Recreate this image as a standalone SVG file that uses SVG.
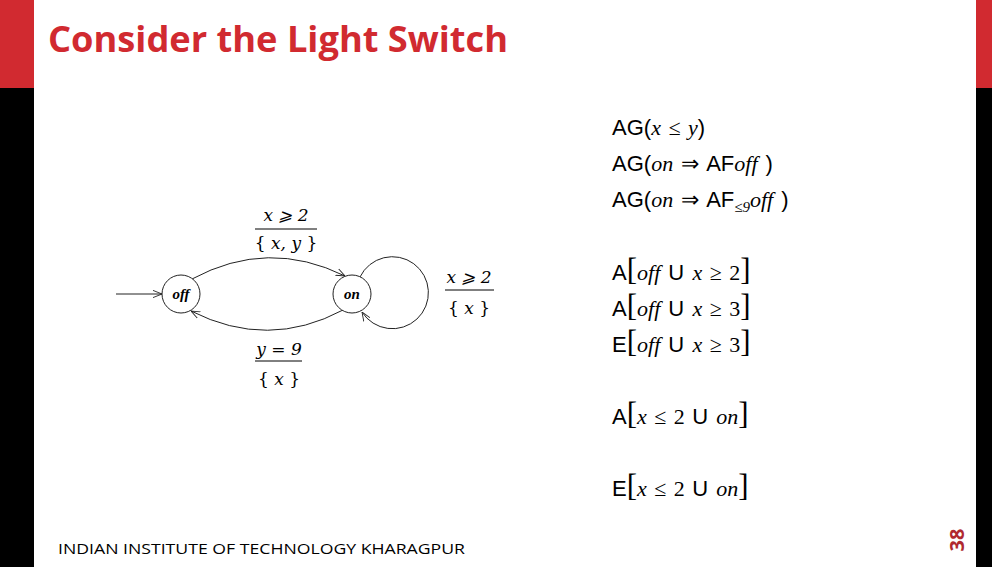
<svg xmlns="http://www.w3.org/2000/svg" width="992" height="567" viewBox="0 0 992 567">
<style>
.s{font-family:"Liberation Sans",Arial,sans-serif;font-size:22px;fill:#000;word-spacing:2px}
.m{font-family:"Liberation Serif","Times New Roman",serif;font-style:italic}
.r{font-family:"Liberation Serif","Times New Roman",serif;font-style:normal}
.b{font-family:"Liberation Serif",serif;font-size:31px;font-weight:normal}
.e{fill:none;stroke:#222;stroke-width:1}
.n{fill:#fff;stroke:#222;stroke-width:1}
.lab{font-family:"DejaVu Serif","Liberation Serif",serif;font-style:italic;font-size:17px;text-anchor:middle}
.nl{font-family:"Liberation Serif",serif;font-style:italic;font-weight:bold;font-size:15px;text-anchor:middle}
</style>
<defs>
<marker id="a" viewBox="0 0 10 10" refX="10" refY="5" markerWidth="9" markerHeight="9" orient="auto" markerUnits="userSpaceOnUse">
<path d="M0,1 L10,5 L0,9" fill="none" stroke="#222" stroke-width="1"/>
</marker>
</defs>
<rect width="992" height="567" fill="#fff"/>
<rect x="0" y="0" width="34" height="88" fill="#d12a30"/>
<rect x="0" y="88" width="34" height="479" fill="#000"/>
<rect x="976" y="0" width="16" height="88" fill="#d12a30"/>
<rect x="976" y="88" width="16" height="479" fill="#000"/>
<text x="48" y="52" font-family="'Open Sans',sans-serif" font-weight="bold" font-size="35" fill="#d12a30" textLength="460" lengthAdjust="spacingAndGlyphs">Consider the Light Switch</text>
<text x="58" y="554" font-family="'Open Sans',sans-serif" font-size="15" fill="#000" textLength="407" lengthAdjust="spacingAndGlyphs">INDIAN INSTITUTE OF TECHNOLOGY KHARAGPUR</text>
<text transform="translate(964,540) rotate(-90)" text-anchor="middle" font-family="'Open Sans',sans-serif" font-weight="bold" font-size="20" fill="#b02a30">38</text>
<g id="connectors">
<line class="e" x1="116" y1="294" x2="162" y2="294" marker-end="url(#a)"/>
<path class="e" d="M192,279 Q268,238 345,276" marker-end="url(#a)"/>
<path class="e" d="M343,310 Q268,350 191,311" marker-end="url(#a)"/>
<path class="e" d="M360,277 A36,36 0 1 1 362,312" marker-end="url(#a)"/>
</g>
<g id="off"><circle class="n" cx="181" cy="294" r="19"/><text class="nl" x="181" y="299">off</text></g>
<g id="on"><circle class="n" cx="352" cy="294" r="19"/><text class="nl" x="352" y="299">on</text></g>
<g id="labels">
<text class="lab" x="286" y="221">x ⩾ 2</text><line x1="255" y1="229" x2="317" y2="229" stroke="#000"/>
<text class="lab" x="286" y="249"><tspan font-style="normal">{</tspan> x, y <tspan font-style="normal">}</tspan></text>
<text class="lab" x="469" y="283">x ⩾ 2</text><line x1="445" y1="290" x2="494" y2="290" stroke="#000"/>
<text class="lab" x="469" y="314"><tspan font-style="normal">{</tspan> x <tspan font-style="normal">}</tspan></text>
<text class="lab" x="279" y="355">y = 9</text><line x1="255" y1="361" x2="302" y2="361" stroke="#000"/>
<text class="lab" x="279" y="385"><tspan font-style="normal">{</tspan> x <tspan font-style="normal">}</tspan></text>
</g>
<g id="formulas">
<text class="s" x="612" y="135">AG(<tspan class="m">x ≤ y</tspan>)</text>
<text class="s" x="612" y="171">AG(<tspan class="m">on</tspan> <tspan class="r">⇒</tspan> AF<tspan class="m">off</tspan> )</text>
<text class="s" x="612" y="207">AG(<tspan class="m">on</tspan> <tspan class="r">⇒</tspan> AF<tspan class="m" font-size="15" dy="5">≤9</tspan><tspan class="m" dy="-5">off</tspan> )</text>
<text class="s" x="612" y="280">A<tspan class="b">[</tspan><tspan class="m">off</tspan> U <tspan class="m">x</tspan><tspan class="r"> ≥ 2</tspan><tspan class="b">]</tspan></text>
<text class="s" x="612" y="316">A<tspan class="b">[</tspan><tspan class="m">off</tspan> U <tspan class="m">x</tspan><tspan class="r"> ≥ 3</tspan><tspan class="b">]</tspan></text>
<text class="s" x="612" y="352">E<tspan class="b">[</tspan><tspan class="m">off</tspan> U <tspan class="m">x</tspan><tspan class="r"> ≥ 3</tspan><tspan class="b">]</tspan></text>
<text class="s" x="612" y="424">A<tspan class="b">[</tspan><tspan class="m">x</tspan><tspan class="r"> ≤ 2 </tspan>U <tspan class="m">on</tspan><tspan class="b">]</tspan></text>
<text class="s" x="612" y="496">E<tspan class="b">[</tspan><tspan class="m">x</tspan><tspan class="r"> ≤ 2 </tspan>U <tspan class="m">on</tspan><tspan class="b">]</tspan></text>
</g>
</svg>
